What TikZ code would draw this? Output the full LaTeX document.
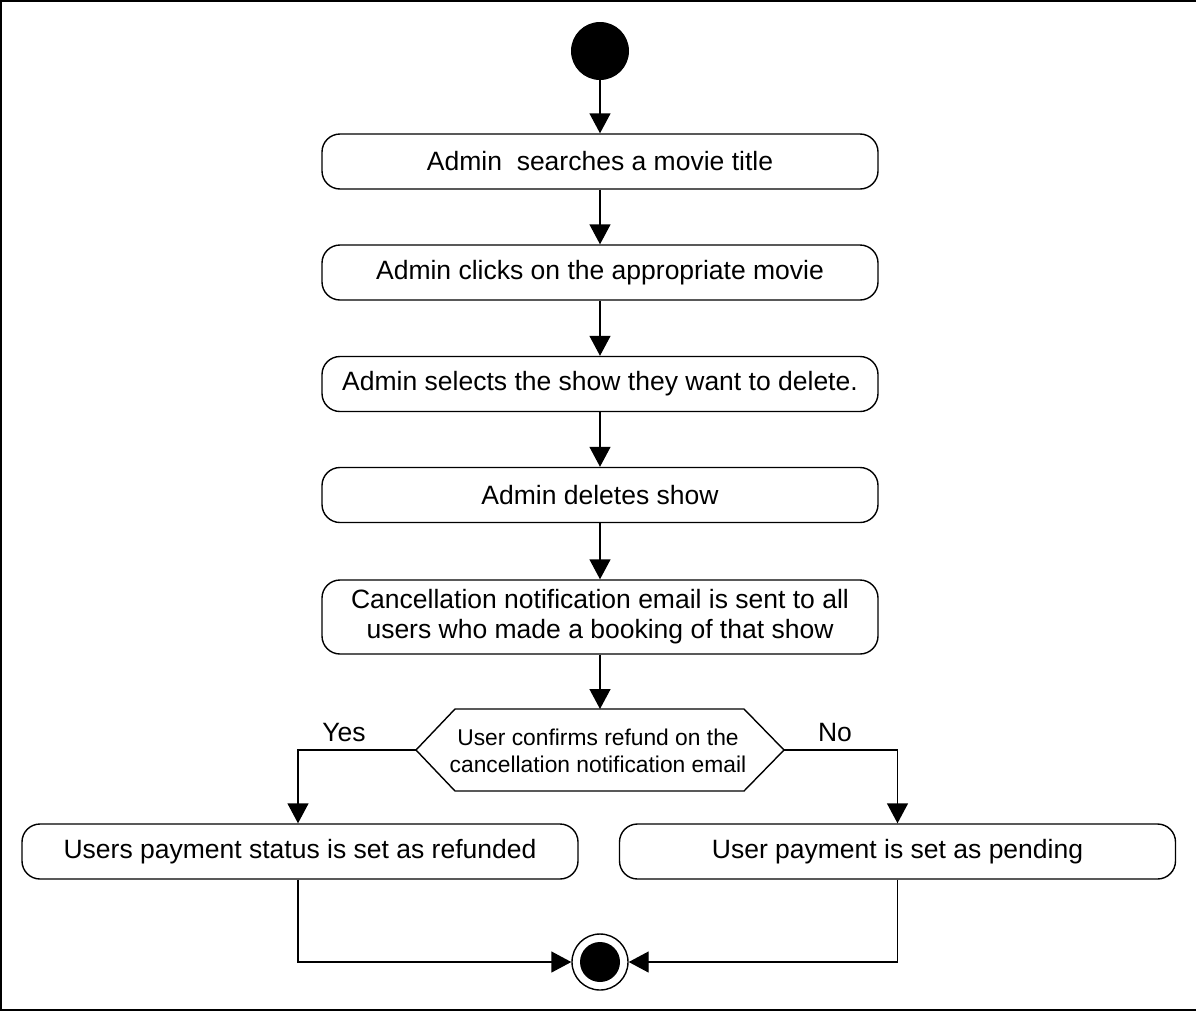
\documentclass[tikz,border=0pt]{standalone}
\usepackage{fontspec}
\setmainfont{Liberation Sans}
\usetikzlibrary{arrows.meta}
\begin{document}
\begin{tikzpicture}[x=1pt,y=-1pt,
  act/.style={draw,line width=1.4pt,rounded corners=18pt,minimum width=556pt,minimum height=55pt,font=\fontsize{26.5}{30}\selectfont,align=center,inner sep=0pt},
  flow/.style={line width=1.4pt,-{Triangle[length=20pt,width=21pt]}},
  lbl/.style={font=\fontsize{26.5}{30}\selectfont}]
\useasboundingbox (0,0) rectangle (1196,1012);
\draw[line width=2pt] (1196,1) -- (1,1) -- (1,1010) -- (1196,1010);
\node[circle,fill=black,minimum size=58pt,inner sep=0pt] (start) at (600,51) {};
\node[act] (a1) at (600,161.5) {\raisebox{-2pt}{Admin\ \ searches a movie title}};
\node[act] (a2) at (600,272.5) {\raisebox{-2pt}{Admin clicks on the appropriate movie}};
\node[act] (a3) at (600,384) {\raisebox{-2pt}{Admin selects the show they want to delete.}};
\node[act] (a4) at (600,495) {\raisebox{-2pt}{Admin deletes show}};
\node[act,minimum height=74pt] (a5) at (600,617) {Cancellation notification email is sent to all\\users who made a booking of that show};
\coordinate (dl) at (416,750);
\coordinate (dr) at (784,750);
\draw[line width=1.4pt] (dl) -- (455,709) -- (744,709) -- (dr) -- (744,791) -- (455,791) -- cycle;
\node[font=\fontsize{22.8}{27}\selectfont,align=center] (dtext) at (598,751) {User confirms refund on the\\cancellation notification email};
\coordinate (dtop) at (600,709);
\node[act] (b1) at (300,851.5) {\raisebox{-2pt}{Users payment status is set as refunded}};
\node[act] (b2) at (897.5,851.5) {\raisebox{-2pt}{User payment is set as pending}};
\node[circle,draw,line width=1.4pt,minimum size=56pt,inner sep=0pt] (endo) at (600,962) {};
\node[circle,fill=black,minimum size=40pt,inner sep=0pt] (endi) at (600,962) {};
\node[lbl] (yes) at (344,733) {Yes};
\node[lbl] (no) at (835,733) {No};
\draw[flow] (start) -- (a1);
\draw[flow] (a1) -- (a2);
\draw[flow] (a2) -- (a3);
\draw[flow] (a3) -- (a4);
\draw[flow] (a4) -- (a5);
\draw[flow] (a5) -- (dtop);
\draw[flow] (dl) -| (b1.north -| 298,0);
\draw[flow] (dr) -| (b2.north);
\draw[flow] (b1.south -| 298,0) |- (endo.west);
\draw[flow] (b2.south) |- (endo.east);
\end{tikzpicture}
\end{document}
